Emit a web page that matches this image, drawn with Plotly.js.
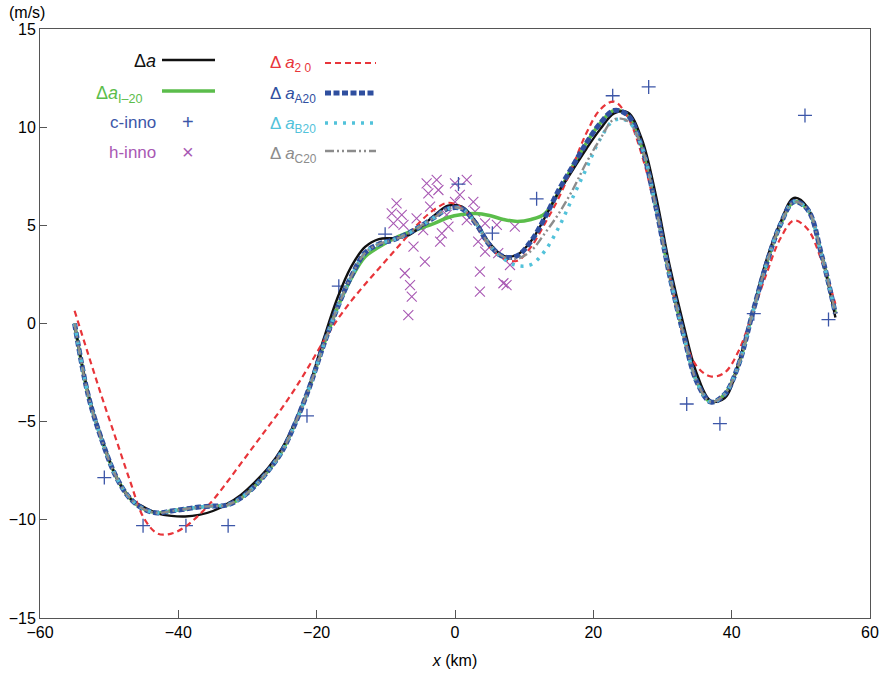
<!DOCTYPE html>
<html>
<head>
<meta charset="utf-8">
<script src="https://cdn.plot.ly/plotly-3.0.1.min.js"></script>
<style>
  html, body { margin: 0; padding: 0; background: #fff; }
  #myDiv { width: 882px; height: 676px; }
</style>
</head>
<body>
<div id="myDiv"></div>
<script>
// common x grid (km)
var xs = [-55, -53, -51, -49, -47, -45, -43, -41, -39, -37, -35, -33, -31, -29, -27, -25, -23, -21, -19, -17,
          -15, -13, -11, -9, -7, -5, -3, -1, 1, 3, 5, 7, 9, 11, 13, 15, 17, 19, 21, 23,
          25, 27, 29, 31, 33, 35, 37, 39, 41, 43, 45, 47, 49, 51, 53, 55];

// delta a (black)
var da = [0, -3.6, -5.9, -7.8, -8.9, -9.35, -9.67, -9.8, -9.83, -9.75, -9.55, -9.2, -8.74, -8.1, -7.35, -6.35, -4.9, -3.1, -0.8, 1.3,
          2.9, 3.9, 4.3, 4.35, 4.45, 4.9, 5.5, 6.0, 5.95, 5.2, 4.1, 3.45, 3.5, 4.2, 5.4, 6.7, 7.8, 8.9, 9.9, 10.7,
          10.75, 9.4, 6.6, 3.0, 0.0, -2.6, -3.95, -3.8, -2.0, 0.6, 3.2, 5.1, 6.4, 5.9, 3.5, 0.3];

// delta a I-20 (green)
var daI20 = [0, -3.7, -6.0, -7.8, -8.9, -9.45, -9.65, -9.55, -9.45, -9.35, -9.3, -9.25, -8.9, -8.3, -7.5, -6.5, -5.0, -3.2, -1.1, 0.8,
             2.3, 3.4, 3.9, 4.3, 4.6, 4.85, 5.1, 5.4, 5.55, 5.6, 5.5, 5.3, 5.2, 5.3, 5.6, 6.7, 8.0, 9.2, 10.2, 10.85,
             10.6, 9.0, 6.0, 2.5, -0.5, -3.0, -4.0, -3.6, -2.1, 0.5, 3.0, 5.0, 6.2, 5.8, 3.5, 0.5];

// delta a 20 (red)
var da20 = [0.65, -1.6, -3.8, -5.9, -8.0, -9.9, -10.7, -10.7, -10.35, -9.75, -9.0, -8.1, -7.15, -6.2, -5.25, -4.3, -3.25, -2.1, -0.9, 0.2,
            1.15, 2.0, 2.8, 3.6, 4.4, 5.2, 5.8, 6.15, 5.9, 5.0, 3.9, 3.3, 3.2, 3.9, 5.1, 6.4, 8.0, 9.7, 10.9, 11.3,
            10.5, 8.6, 5.8, 2.5, -0.6, -2.2, -2.7, -2.5, -1.4, 0.5, 2.5, 4.3, 5.25, 4.8, 3.2, 1.0];

// delta a A20 (blue)
var daA20 = [0, -3.7, -6.0, -7.8, -8.9, -9.45, -9.65, -9.55, -9.45, -9.35, -9.3, -9.25, -8.9, -8.3, -7.5, -6.5, -5.0, -3.2, -1.1, 0.8,
             2.4, 3.6, 4.05, 4.25, 4.55, 4.95, 5.4, 5.85, 5.85, 5.1, 4.0, 3.4, 3.45, 4.2, 5.4, 6.8, 8.0, 9.2, 10.2, 10.85,
             10.6, 9.0, 6.0, 2.5, -0.5, -3.0, -4.0, -3.6, -2.1, 0.5, 3.0, 5.0, 6.2, 5.8, 3.5, 0.5];

// delta a B20 (cyan)
var daB20 = [0, -3.7, -6.0, -7.8, -8.9, -9.45, -9.65, -9.55, -9.45, -9.35, -9.3, -9.25, -8.9, -8.3, -7.5, -6.5, -5.0, -3.2, -1.1, 0.8,
             2.4, 3.6, 4.05, 4.25, 4.55, 4.95, 5.4, 5.85, 5.85, 5.1, 4.0, 3.3, 2.95, 3.0, 3.7, 4.9, 6.4, 7.9, 9.4, 10.35,
             10.3, 9.0, 6.0, 2.5, -0.5, -3.0, -4.0, -3.6, -2.1, 0.5, 3.0, 5.0, 6.2, 5.8, 3.5, 0.5];

// delta a C20 (gray)
var daC20 = [0, -3.7, -6.0, -7.8, -8.9, -9.45, -9.65, -9.55, -9.45, -9.35, -9.3, -9.25, -8.9, -8.3, -7.5, -6.5, -5.0, -3.2, -1.1, 0.8,
             2.4, 3.6, 4.05, 4.25, 4.55, 4.95, 5.4, 5.85, 5.85, 5.1, 4.0, 3.4, 3.3, 3.7, 4.6, 5.6, 6.8, 8.2, 9.4, 10.4,
             10.3, 9.0, 6.0, 2.5, -0.5, -3.0, -4.0, -3.6, -2.1, 0.5, 3.0, 5.0, 6.2, 5.8, 3.5, 0.5];

// c-inno points
var cX = [-50.7, -45.1, -38.9, -32.8, -21.4, -16.8, -10.1, 0.5, 5.4, 11.8, 22.8, 28.0, 33.5, 38.3, 43.2, 50.6, 54.0];
var cY = [-7.85, -10.3, -10.3, -10.3, -4.7, 1.9, 4.55, 7.1, 4.6, 6.35, 11.6, 12.05, -4.1, -5.1, 0.5, 10.6, 0.2];

// h-inno points
var hX = [-4.1, -2.65, -2.4, -3.85, 0.0, -8.45, -9.15, -7.7, -8.9, -7.45, -5.55, -3.6, 0.0, -1.2, -0.95, -1.9, -2.15, -4.6,
          -6.0, -4.35, -7.25, -6.5, -6.25, -6.75, 1.7, 0.7, 2.65, 2.9, 1.7, 4.35, 6.05, 8.65, 3.35, 4.35, 6.25, 7.95,
          3.6, 7.0, 7.45, 3.6];
var hY = [7.14, 7.31, 6.8, 6.63, 7.14, 6.12, 5.61, 5.53, 5.1, 5.02, 5.36, 5.95, 6.2, 5.53, 4.93, 4.59, 4.17, 4.76,
          3.91, 3.15, 2.56, 1.96, 1.37, 0.43, 7.31, 6.55, 6.2, 5.7, 5.27, 5.1, 5.02, 4.93, 4.17, 3.66, 3.58, 2.98,
          2.64, 2.05, 1.96, 1.62];

var xTicks = [-60, -40, -20, 0, 20, 40, 60];
var yTicks = [-15, -10, -5, 0, 5, 10, 15];

var cBlack = '#111111', cGreen = '#5bbd4b', cRed = '#e8353a', cBlue = '#2f4f9f',
    cCyan = '#52c2da', cGray = '#8c8c8c', cInno = '#3c56a8', hInno = '#a858b3';

var data = [
  { x: hX, y: hY, type: 'scatter', mode: 'markers', name: 'h-inno',
    marker: { symbol: 'x-thin', size: 10, color: hInno, line: { color: hInno, width: 1.1 } } },
  { x: cX, y: cY, type: 'scatter', mode: 'markers', name: 'c-inno',
    marker: { symbol: 'cross-thin', size: 10, color: cInno, line: { color: cInno, width: 1.3 } } },
  { x: xs, y: daI20, type: 'scatter', mode: 'lines', name: 'I-20',
    line: { color: cGreen, width: 3.5, shape: 'spline' } },
  { x: xs, y: da, type: 'scatter', mode: 'lines', name: 'a',
    line: { color: cBlack, width: 2.4, shape: 'spline' } },
  { x: xs, y: da20, type: 'scatter', mode: 'lines', name: '20',
    line: { color: cRed, width: 2.2, dash: '6px,4px', shape: 'spline' } },
  { x: xs, y: daA20, type: 'scatter', mode: 'lines', name: 'A20',
    line: { color: cBlue, width: 5, dash: '6px,2.5px', shape: 'spline' } },
  { x: xs, y: daB20, type: 'scatter', mode: 'lines', name: 'B20',
    line: { color: cCyan, width: 3.5, dash: '3px,6px', shape: 'spline' } },
  { x: xs, y: daC20, type: 'scatter', mode: 'lines', name: 'C20',
    line: { color: cGray, width: 2.4, dash: '9px,3px,2px,3px,2px,3px', shape: 'spline' } }
];

var fnt = 'Liberation Sans, Arial, Helvetica, sans-serif';

function px2x(p) { return (p - 40) / 830; }
function py2y(p) { return (618 - p) / 589; }

// legend drawn by hand: labels left, samples right
var annotations = [
  { text: '(m/s)', x: px2x(27), y: py2y(12), xanchor: 'center', yanchor: 'middle', font: { color: '#000', size: 16 } },
  { text: 'Δ<i>a</i>', x: px2x(158), y: py2y(61), xanchor: 'right', font: { color: cBlack, size: 18 } },
  { text: 'Δ<i>a</i><sub>I–20</sub>', x: px2x(145), y: py2y(94), xanchor: 'right', font: { color: cGreen, size: 18 } },
  { text: 'c-inno', x: px2x(158), y: py2y(122), xanchor: 'right', font: { color: cInno, size: 17 } },
  { text: 'h-inno', x: px2x(158), y: py2y(152), xanchor: 'right', font: { color: hInno, size: 17 } },
  { text: '+', x: px2x(188), y: py2y(122), xanchor: 'center', font: { color: cInno, size: 20 } },
  { text: '×', x: px2x(188), y: py2y(152), xanchor: 'center', font: { color: hInno, size: 20 } },
  { text: 'Δ <i>a</i><sub>2 0</sub>', x: px2x(268), y: py2y(64), xanchor: 'left', font: { color: cRed, size: 17 } },
  { text: 'Δ <i>a</i><sub>A20</sub>', x: px2x(268), y: py2y(95), xanchor: 'left', font: { color: cBlue, size: 17 } },
  { text: 'Δ <i>a</i><sub>B20</sub>', x: px2x(268), y: py2y(125), xanchor: 'left', font: { color: cCyan, size: 17 } },
  { text: 'Δ <i>a</i><sub>C20</sub>', x: px2x(268), y: py2y(155), xanchor: 'left', font: { color: cGray, size: 17 } }
].map(function (a) {
  a.xref = 'paper'; a.yref = 'paper'; a.showarrow = false;
  if (!a.yanchor) a.yanchor = 'middle';
  return a;
});

function sample(p0, p1, py, color, width, dash) {
  return { type: 'line', xref: 'paper', yref: 'paper', x0: px2x(p0), x1: px2x(p1), y0: py2y(py), y1: py2y(py),
           line: { color: color, width: width, dash: dash } };
}

var shapes = [
  sample(162, 215, 60, cBlack, 2.4, 'solid'),
  sample(162, 215, 91, cGreen, 3.5, 'solid'),
  sample(325, 376, 63, cRed, 2.2, '6px,4px'),
  sample(325, 376, 93, cBlue, 5, '6px,2.5px'),
  sample(325, 376, 123, cCyan, 3.5, '3px,6px'),
  sample(325, 376, 151, cGray, 2.4, '9px,3px,2px,3px,2px,3px')
];

var layout = {
  width: 882,
  height: 676,
  margin: { l: 40, r: 12, t: 29, b: 58 },
  paper_bgcolor: '#fff',
  plot_bgcolor: '#fff',
  showlegend: false,
  font: { family: fnt, size: 16, color: '#000' },
  xaxis: {
    range: [-60, 60],
    tickvals: xTicks,
    ticks: 'inside', ticklen: 8, tickcolor: '#555', tickwidth: 1,
    showline: true, linecolor: '#555', linewidth: 1, mirror: true,
    showgrid: false, zeroline: false,
    tickfont: { family: fnt, size: 16 },
    title: { text: '<i>x</i> (km)', font: { family: fnt, size: 16 }, standoff: 14 }
  },
  yaxis: {
    range: [-15, 15],
    tickvals: yTicks,
    ticks: 'inside', ticklen: 7, tickcolor: '#555', tickwidth: 1,
    showline: true, linecolor: '#555', linewidth: 1, mirror: true,
    showgrid: false, zeroline: false,
    tickfont: { family: fnt, size: 16 }
  },
  annotations: annotations,
  shapes: shapes
};

Plotly.newPlot('myDiv', data, layout, { displayModeBar: false, staticPlot: true });
</script>
</body>
</html>
